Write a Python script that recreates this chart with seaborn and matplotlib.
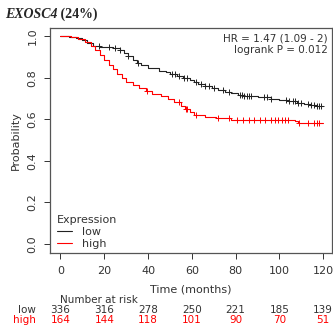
import matplotlib
matplotlib.use("Agg")
import matplotlib.pyplot as plt
import matplotlib.transforms as mtransforms
from matplotlib.lines import Line2D
import seaborn as sns
import numpy as np
import pandas as pd

# Kaplan-Meier steps
low_time = [0, 4, 7, 10, 12, 15, 18, 24, 27, 29, 31, 33, 35, 37, 40, 45, 48, 50, 53, 56, 59, 61,
            63, 66, 69, 72, 75, 78, 81, 84, 90, 96, 100, 104, 108, 111, 114, 117, 120]
low_surv = [1.0, 0.995, 0.99, 0.98, 0.966, 0.955, 0.95, 0.945, 0.935, 0.92, 0.905, 0.888, 0.872,
            0.86, 0.848, 0.835, 0.828, 0.82, 0.81, 0.8, 0.79, 0.778, 0.77, 0.76, 0.752, 0.742,
            0.733, 0.725, 0.715, 0.71, 0.707, 0.7, 0.693, 0.686, 0.68, 0.676, 0.669, 0.666, 0.666]
high_time = [0, 5, 8, 11, 14, 16, 18, 20, 22, 24, 26, 28, 30, 33, 36, 39, 42, 46, 49, 52, 55, 57,
             59, 61, 66, 71, 78, 107, 108.5, 120]
high_surv = [1.0, 0.995, 0.985, 0.97, 0.952, 0.935, 0.91, 0.885, 0.862, 0.84, 0.818, 0.797, 0.78,
             0.765, 0.75, 0.735, 0.722, 0.714, 0.698, 0.683, 0.665, 0.648, 0.633, 0.622, 0.613,
             0.605, 0.598, 0.593, 0.584, 0.584]

# censoring times
low_cens = [17.5, 22, 25, 27, 31, 35.5, 51, 52.5, 54, 56.5, 58, 62, 64, 66, 68, 70, 74, 77, 82,
            83, 84, 85, 86, 87, 93, 94.5, 96, 103, 104.5, 106, 107, 108.5, 110, 113, 114.5, 116,
            117, 118, 119]
high_cens = [39.7, 54, 57.2, 58, 62, 71.8, 77, 80.6, 83.5, 86, 88.5, 91, 93.5, 96, 98, 99.5, 101,
             102.5, 104, 109, 113, 116, 117, 118]

risk_ticks = [0, 20, 40, 60, 80, 100, 120]
risk_low = [336, 316, 278, 250, 221, 185, 139]
risk_high = [164, 144, 118, 101, 90, 70, 51]

LOW_COLOR = "#222222"
HIGH_COLOR = "#ff0000"


def step_value(times, surv, t):
    idx = np.searchsorted(times, t, side="right") - 1
    return surv[idx]


sns.set_style("ticks")
plt.rcParams["font.family"] = ["DejaVu Sans"]

fig = plt.figure(figsize=(3.33, 3.29), dpi=100)
ax = fig.add_axes([0.150, 0.231, 0.847, 0.684])

low_df = pd.DataFrame({"time": low_time, "surv": low_surv})
high_df = pd.DataFrame({"time": high_time, "surv": high_surv})
sns.lineplot(data=low_df, x="time", y="surv", drawstyle="steps-post", estimator=None,
             color=LOW_COLOR, lw=0.8, ax=ax)
sns.lineplot(data=high_df, x="time", y="surv", drawstyle="steps-post", estimator=None,
             color=HIGH_COLOR, lw=0.8, ax=ax)

low_c = pd.DataFrame({"time": low_cens,
                      "surv": [step_value(low_time, low_surv, t) for t in low_cens]})
high_c = pd.DataFrame({"time": high_cens,
                       "surv": [step_value(high_time, high_surv, t) for t in high_cens]})
ax.plot(low_c["time"], low_c["surv"], ls="none", marker="+", ms=5, mew=0.7, color=LOW_COLOR)
ax.plot(high_c["time"], high_c["surv"], ls="none", marker="+", ms=5, mew=0.7, color=HIGH_COLOR)

ax.set_xlim(-4.8, 124.0)
ax.set_ylim(-0.044, 1.04)
ax.set_xticks(risk_ticks)
ax.set_yticks([0.0, 0.2, 0.4, 0.6, 0.8, 1.0])
ax.set_yticklabels(["0.0", "0.2", "0.4", "0.6", "0.8", "1.0"], rotation=90, va="center")
ax.tick_params(labelsize=8, colors="#333333", length=4, width=0.7, pad=5)
for s in ax.spines.values():
    s.set_visible(True)
    s.set_color("#555555")
    s.set_linewidth(0.9)
ax.set_xlabel("")
ax.set_ylabel("Probability", fontsize=8, color="#333333", labelpad=5)

ax.text(0.985, 0.975, "HR = 1.47 (1.09 - 2)\nlogrank P = 0.012", transform=ax.transAxes,
        ha="right", va="top", fontsize=7.5, color="#333333", linespacing=1.15)

handles = [Line2D([], [], color=LOW_COLOR, lw=0.8), Line2D([], [], color=HIGH_COLOR, lw=0.8)]
leg = ax.legend(handles, ["low", "high"], title="Expression", loc="lower left",
                bbox_to_anchor=(-0.01, -0.025), frameon=False, fontsize=8, title_fontsize=8,
                handlelength=1.3, handletextpad=0.9, labelspacing=0.15, alignment="left")
for t in leg.get_texts():
    t.set_color("#333333")
leg.get_title().set_color("#333333")

# title: italic gene name followed by upright percentage
gene = fig.text(0.015, 0.935, "EXOSC4", fontsize=10, fontstyle="italic", fontweight="bold",
                family="Liberation Serif", va="bottom")
ax.annotate(" (24%)", xy=(1, 0), xycoords=gene, va="bottom", ha="left", fontsize=10,
            fontweight="bold", family="Liberation Serif", annotation_clip=False)

fig.text(0.573, 0.12, "Time (months)", ha="center", va="center", fontsize=8, color="#333333")

trans = mtransforms.blended_transform_factory(ax.transData, fig.transFigure)
ax.text(0, 0.088, "Number at risk", transform=trans, ha="left", va="center", fontsize=7.5,
        color="#333333")
fig.text(0.107, 0.058, "low", ha="right", va="center", fontsize=7.5, color="#333333")
fig.text(0.107, 0.028, "high", ha="right", va="center", fontsize=7.5, color=HIGH_COLOR)
for x, lo, hi in zip(risk_ticks, risk_low, risk_high):
    ax.text(x, 0.058, str(lo), transform=trans, ha="center", va="center", fontsize=7.5,
            color="#333333")
    ax.text(x, 0.028, str(hi), transform=trans, ha="center", va="center", fontsize=7.5,
            color=HIGH_COLOR)

fig.savefig("out.png", dpi=100)
